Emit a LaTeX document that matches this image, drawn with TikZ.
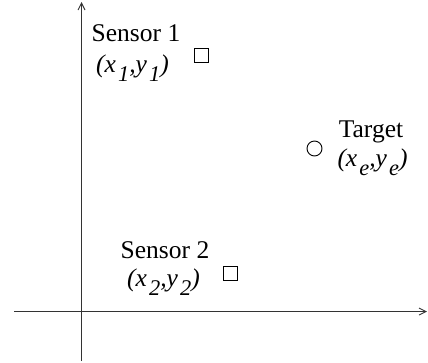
\documentclass[tikz,border=0pt]{standalone}
\usepackage{fontspec}
\setmainfont{Liberation Serif}
\usetikzlibrary{arrows.meta}
\newcommand{\sbs}[1]{\hspace{0.08em}\raisebox{-0.36em}{\scalebox{0.88}{#1}}}
\begin{document}
\begin{tikzpicture}[x=1pt,y=-1pt,
  axis/.style={draw=black!80,line width=0.9pt,-{Straight Barb[length=7pt,width=7pt]}},
  lbl/.style={font=\fontsize{25.5}{30}\selectfont,inner sep=0pt},
  sq/.style={draw,line width=0.9pt,minimum size=14pt,inner sep=0pt},
  circ/.style={draw,circle,line width=0.9pt,minimum size=15pt,inner sep=0pt}]
\useasboundingbox (0,0) rectangle (428,362);
\coordinate (ybot) at (81.5,361);
\coordinate (ytop) at (81.5,2);
\coordinate (xl) at (14,311.5);
\coordinate (xr) at (427,311.5);
\draw[axis] (ybot) -- (ytop);
\draw[axis] (xl) -- (xr);
\node[sq] (s1) at (201,55) {};
\node[circ] (t) at (314.5,148.5) {};
\node[sq] (s2) at (230.5,273) {};
\node[lbl] (s1n) at (136,33.5) {Sensor 1};
\node[lbl] (s1c) at (132.5,68) {\itshape (x\sbs{1},y\sbs{1})};
\node[lbl] (tn) at (371,131.5) {Target};
\node[lbl] (tc) at (372.5,162.5) {\itshape (x\sbs{e},y\sbs{e})};
\node[lbl] (s2n) at (165,250) {Sensor 2};
\node[lbl] (s2c) at (163.5,282.5) {\itshape (x\sbs{2},y\sbs{2})};
\end{tikzpicture}
\end{document}
